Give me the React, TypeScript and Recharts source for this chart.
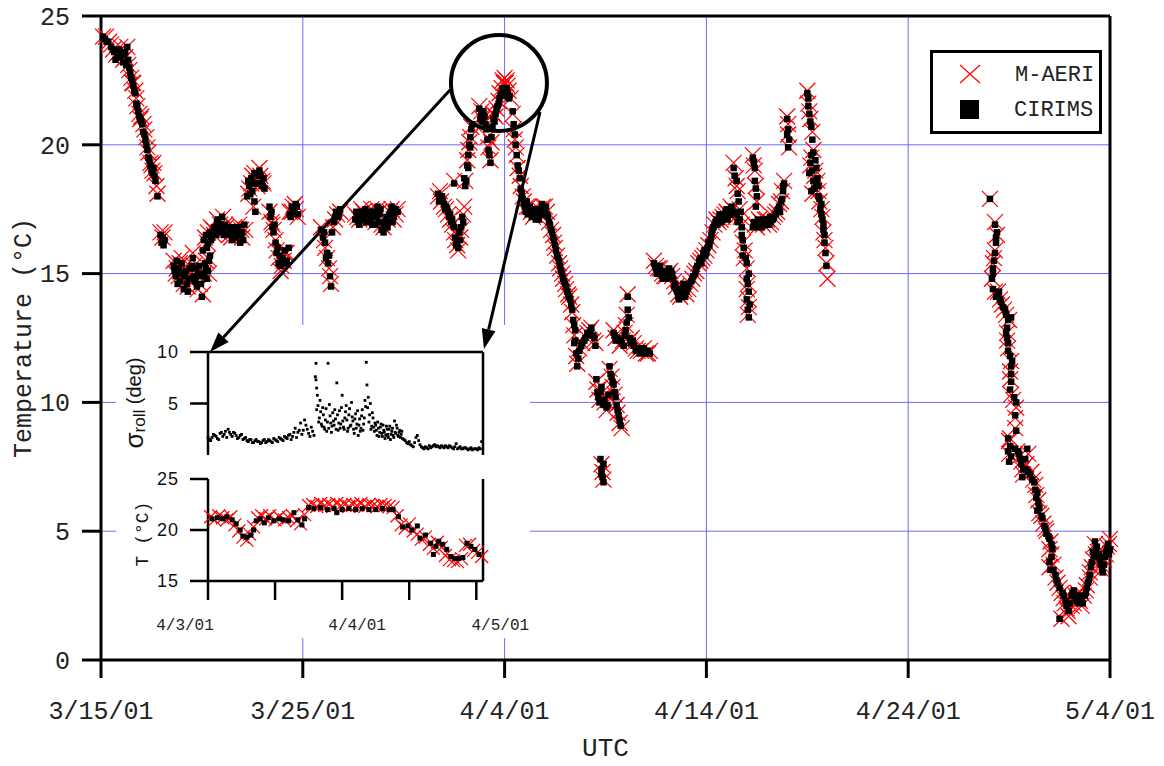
import { ScatterChart, Scatter, XAxis, YAxis, CartesianGrid, ReferenceLine, ReferenceDot, Legend } from 'recharts'

// days since 3/15/01 00 UTC, temperature in °C
const xTicks = [0, 10, 20, 30, 40, 50]
const xTickLabels = ['3/15/01', '3/25/01', '4/4/01', '4/14/01', '4/24/01', '5/4/01']
const yTicks = [0, 5, 10, 15, 20, 25]
const seriesNames = ['M-AERI', 'CIRIMS']

const cirimsMar = [
  [0.1, 24.2], [0.2, 24.1], [0.35, 24.0], [0.5, 23.8], [0.65, 23.6], [0.8, 23.4], [0.9, 23.7], [1.0, 23.5], [1.1, 23.2], [1.2, 23.6],
  [1.3, 23.8], [1.35, 23.3], [1.45, 22.8], [1.55, 22.5], [1.6, 22.3], [1.7, 22.0], [1.75, 21.6], [1.85, 21.3], [1.95, 21.0], [2.05, 20.8],
  [2.1, 20.5], [2.2, 20.2], [2.3, 19.8], [2.35, 19.5], [2.45, 19.2], [2.55, 18.9], [2.6, 19.1], [2.8, 18.0], [2.95, 16.5], [3.0, 16.2],
  [3.05, 16.4], [3.15, 16.3],
  [3.6, 15.3], [3.7, 14.9], [3.75, 15.5], [3.85, 15.2], [3.9, 14.7], [4.0, 15.4], [4.05, 15.0], [4.1, 14.4], [4.2, 15.1], [4.25, 14.6],
  [4.3, 14.3], [4.4, 15.2], [4.45, 14.8], [4.55, 15.6], [4.6, 14.9], [4.7, 15.2], [4.75, 14.5], [4.85, 15.3], [4.9, 14.9], [5.0, 14.1],
  [5.05, 15.0], [5.15, 15.4], [5.25, 14.8], [5.3, 15.1], [5.4, 15.7],
  [5.05, 15.9], [5.1, 16.3], [5.2, 16.5], [5.3, 16.2], [5.4, 16.6], [5.5, 16.4], [5.6, 16.8], [5.7, 16.5], [5.75, 17.0], [5.85, 16.6],
  [5.9, 16.8], [6.0, 17.2], [6.05, 16.7], [6.15, 16.9], [6.25, 16.5], [6.4, 16.7], [6.5, 16.3], [6.6, 16.6], [6.7, 16.4], [6.8, 16.8],
  [6.9, 16.2], [7.0, 16.6], [7.1, 16.9],
  [7.25, 18.0], [7.35, 18.4], [7.45, 18.7], [7.5, 18.2], [7.6, 18.9], [7.7, 18.5], [7.8, 18.8], [7.85, 19.0], [7.95, 18.5], [8.05, 18.7],
  [8.1, 18.3], [7.6, 17.8], [7.65, 17.4], [8.35, 17.6], [8.4, 17.2], [8.5, 16.8], [8.55, 16.6], [8.65, 16.2], [8.7, 15.8], [8.8, 15.4],
  [8.9, 15.3], [9.0, 15.6], [9.1, 15.9], [9.2, 15.5], [9.3, 16.0], [9.35, 17.3], [9.45, 17.6], [9.55, 17.4], [9.65, 17.7], [9.75, 17.3],
  [10.9, 16.7], [11.0, 16.4], [11.1, 16.2], [11.15, 15.6], [11.25, 15.4], [11.3, 15.7], [11.35, 14.9], [11.4, 14.5], [11.45, 16.6], [11.55, 17.0],
  [11.65, 17.4], [11.75, 17.2], [11.85, 17.5],
  [12.6, 17.1], [12.7, 17.3], [12.8, 16.9], [12.9, 17.4], [13.0, 17.2], [13.1, 17.5], [13.2, 17.3], [13.3, 17.0], [13.4, 17.4], [13.5, 17.2],
  [13.6, 16.9], [13.7, 17.6], [13.8, 17.3], [13.9, 16.7], [14.0, 16.6], [14.1, 17.0], [14.2, 16.8], [14.3, 17.3], [14.4, 17.6], [14.5, 17.2],
  [14.6, 17.5], [14.7, 17.4],
]

const cirimsEarlyApr = [
  [16.7, 18.1], [16.8, 17.9], [16.9, 18.0], [17.0, 17.7], [17.1, 17.6], [17.2, 17.4], [17.3, 17.3], [17.4, 17.1], [17.5, 16.8], [17.55, 16.4],
  [17.6, 16.1], [17.7, 16.0], [17.8, 16.3], [17.85, 16.8], [17.9, 17.2], [17.5, 18.5], [18.0, 18.7], [18.1, 18.6], [18.15, 19.2], [18.2, 19.6],
  [18.25, 20.0], [18.3, 20.3], [18.35, 20.6],
  [18.75, 21.4], [18.85, 21.2], [18.9, 20.9], [19.0, 21.1], [19.1, 20.6], [19.2, 19.8], [19.3, 19.3], [19.35, 20.3], [19.45, 21.0], [19.55, 21.2],
  [19.65, 21.5], [19.75, 21.8], [19.85, 22.0], [19.95, 22.1], [20.05, 22.1], [20.15, 22.0], [20.25, 21.9], [20.4, 21.3], [20.5, 20.4], [20.55, 20.0],
  [20.6, 19.6], [20.65, 19.2], [20.75, 18.7], [20.8, 18.3], [20.9, 17.9], [21.0, 17.6],
  [21.1, 17.8], [21.15, 17.3], [21.25, 17.6], [21.35, 17.2], [21.45, 17.5], [21.55, 17.1], [21.65, 17.4], [21.75, 17.3], [21.85, 17.7], [21.95, 17.5],
  [22.05, 17.6], [22.15, 17.2], [22.25, 16.9], [22.35, 16.6], [22.45, 16.3], [22.55, 15.9], [22.65, 15.6], [22.75, 15.3], [22.85, 15.0], [22.95, 14.7],
  [23.05, 14.5], [23.15, 14.2], [23.25, 14.0], [23.35, 13.6], [23.4, 13.2], [23.5, 12.8], [23.45, 12.3], [23.55, 11.9], [23.6, 11.4], [23.7, 12.0],
  [23.85, 12.3], [24.0, 12.5], [24.15, 12.6], [24.3, 12.9], [24.45, 12.5], [24.5, 12.2],
  [24.55, 10.9], [24.6, 10.4], [24.7, 10.0], [24.8, 10.6], [24.9, 9.9], [25.05, 9.8], [25.15, 10.3], [25.2, 11.4], [25.3, 11.0], [25.4, 10.7],
  [25.5, 10.2], [25.6, 9.7], [25.7, 9.3], [25.75, 9.1], [24.75, 7.8], [24.8, 7.4], [24.85, 7.1], [24.9, 6.9], [25.4, 12.7], [25.5, 12.4],
  [25.8, 12.3], [25.95, 12.6], [26.05, 13.1], [26.1, 13.6], [26.1, 14.1], [26.2, 12.5], [26.35, 12.4], [26.5, 12.0], [26.65, 12.1], [26.8, 12.0],
  [26.95, 11.9], [27.1, 12.0], [27.2, 11.9],
]

const cirimsMidApr = [
  [27.4, 15.4], [27.5, 15.2], [27.6, 15.0], [27.7, 15.3], [27.8, 14.9], [27.9, 15.1], [28.0, 14.8], [28.15, 15.2], [28.3, 15.0], [28.45, 14.6],
  [28.55, 14.3], [28.65, 14.0], [28.7, 14.4], [28.85, 14.6], [29.0, 14.3], [29.1, 14.5], [29.25, 14.7], [29.35, 14.9], [29.5, 15.2], [29.65, 15.5],
  [29.75, 15.4], [29.85, 15.8], [29.95, 15.7], [30.05, 16.0], [30.15, 16.1], [30.25, 16.5], [30.35, 16.8], [30.45, 17.0], [30.55, 16.9], [30.7, 17.2],
  [30.8, 17.1], [30.95, 17.4], [31.1, 17.3], [31.25, 17.6], [31.4, 17.4], [31.55, 17.0],
  [31.35, 19.1], [31.5, 18.6], [31.55, 18.1], [31.7, 17.4], [31.75, 16.8], [31.8, 16.3], [31.8, 15.7], [32.0, 15.4], [32.1, 15.0], [32.05, 14.6],
  [32.1, 14.3], [32.0, 14.0], [32.05, 13.6], [32.1, 13.3],
  [32.3, 19.5], [32.4, 19.1], [32.4, 18.6], [32.5, 18.0], [32.45, 17.6],
  [32.3, 16.8], [32.45, 16.9], [32.6, 17.0], [32.75, 16.8], [32.9, 17.0], [33.05, 17.1], [33.2, 17.0], [33.35, 17.2], [33.5, 17.4], [33.6, 17.6],
  [33.7, 17.8], [33.8, 18.2], [33.85, 18.5],
  [34.0, 21.0], [34.05, 20.6], [34.1, 20.2], [34.05, 19.9],
  [35.0, 22.0], [35.05, 21.5], [35.1, 21.2], [35.2, 20.7], [35.25, 20.2], [35.3, 19.7], [35.15, 19.3], [35.1, 18.9], [35.25, 19.0], [35.45, 19.1],
  [35.5, 18.7], [35.35, 18.3], [35.2, 18.2], [35.55, 18.4], [35.6, 17.9], [35.7, 17.7], [35.75, 17.1], [35.8, 16.7], [35.85, 16.2], [35.95, 15.3],
]

const cirimsLate = [
  [44.05, 17.9], [44.3, 16.9], [44.4, 16.6], [44.35, 16.2], [44.3, 15.8], [44.2, 15.2], [44.15, 14.8], [44.2, 14.4], [44.45, 14.2], [44.55, 14.0],
  [44.7, 13.7], [44.85, 13.4], [45.1, 13.3], [44.9, 12.9], [44.9, 12.5], [44.95, 12.0], [45.15, 11.6], [45.1, 11.1], [45.05, 10.5], [45.35, 10.0],
  [45.35, 8.9], [44.95, 8.6], [44.95, 8.1], [45.0, 7.7], [45.3, 8.2], [45.5, 8.0], [45.6, 7.6], [45.65, 7.1], [45.9, 8.2], [45.85, 7.4],
  [46.05, 7.2], [46.25, 6.9], [46.4, 6.5], [46.45, 6.1], [46.4, 5.8], [46.65, 5.5], [46.75, 5.2], [46.85, 4.9], [47.0, 4.7], [47.15, 4.3],
  [47.0, 3.8], [47.05, 3.5], [47.3, 3.3], [47.4, 3.0], [47.65, 2.6], [47.8, 2.3], [47.95, 1.9], [47.5, 1.6], [48.1, 2.5], [48.2, 2.7],
  [48.35, 2.3], [48.5, 2.5], [48.65, 2.2], [48.8, 2.6], [48.9, 3.0], [49.0, 3.3], [49.1, 3.8], [49.15, 4.2], [49.25, 4.6], [49.35, 4.4],
  [49.5, 3.9], [49.6, 3.5], [49.7, 3.7], [49.8, 4.2], [49.9, 4.5], [49.95, 4.1],
]

// further CIRIMS readings between the ones above (the record is nearly continuous)
const cirimsDense = [
  [0.28, 24.0], [0.58, 23.7], [0.72, 23.3], [0.95, 23.4], [1.15, 23.5], [1.25, 23.1], [1.4, 23.0], [1.5, 22.6], [1.65, 22.1], [1.8, 21.5],
  [1.9, 21.1], [2.0, 20.9], [2.15, 20.4], [2.25, 20.0], [2.4, 19.4], [2.5, 19.0], [2.65, 18.8], [2.7, 18.6], [3.1, 16.1],
  [3.65, 15.1], [3.8, 14.6], [3.95, 15.0], [4.15, 14.9], [4.35, 14.8], [4.5, 15.3], [4.65, 14.7], [4.8, 15.0], [4.95, 14.6], [5.1, 14.9],
  [5.2, 15.2], [5.35, 15.5],
  [5.25, 16.0], [5.45, 16.3], [5.65, 16.6], [5.8, 17.1], [5.95, 16.9], [6.1, 16.5], [6.3, 16.8], [6.45, 16.5], [6.55, 16.8], [6.75, 16.6],
  [6.95, 16.5], [7.05, 16.3],
  [7.3, 18.6], [7.4, 18.1], [7.55, 18.5], [7.7, 18.9], [7.9, 18.8], [8.0, 18.4], [8.45, 17.4], [8.6, 16.9], [8.75, 16.0], [8.85, 15.7],
  [8.95, 15.5], [9.15, 15.4], [9.4, 17.2], [9.5, 17.5], [9.7, 17.6],
  [11.05, 16.6], [11.2, 15.8], [11.6, 17.2], [11.8, 17.3], [12.65, 17.4], [12.75, 17.0], [12.85, 17.2], [12.95, 17.1], [13.05, 17.3], [13.15, 17.0],
  [13.25, 17.4], [13.35, 17.1], [13.45, 16.9], [13.55, 17.4], [13.65, 17.2], [13.75, 17.0], [13.85, 17.5], [13.95, 17.0], [14.05, 16.8], [14.15, 17.2],
  [14.25, 17.0], [14.35, 17.4], [14.45, 17.0], [14.55, 17.4],
  [16.75, 17.8], [16.95, 17.8], [17.05, 17.5], [17.15, 17.5], [17.25, 17.2], [17.35, 17.0], [17.45, 16.9], [17.65, 16.2], [17.75, 16.6], [17.95, 17.0],
  [18.05, 18.4], [18.2, 19.1], [18.3, 19.9], [18.4, 20.8], [18.8, 21.0], [18.95, 21.3], [19.05, 20.8], [19.15, 20.2], [19.25, 19.6], [19.4, 20.7],
  [19.5, 20.9], [19.6, 21.4], [19.7, 21.6], [19.8, 21.9], [19.9, 22.2], [20.0, 21.9], [20.1, 22.2], [20.2, 21.8], [20.45, 20.8], [20.7, 19.0],
  [20.85, 18.1], [20.95, 17.7],
  [21.05, 17.4], [21.2, 17.5], [21.3, 17.4], [21.4, 17.3], [21.5, 17.2], [21.6, 17.5], [21.7, 17.1], [21.8, 17.5], [21.9, 17.3], [22.0, 17.4],
  [22.1, 17.3], [22.2, 17.0], [22.3, 16.7], [22.4, 16.4], [22.5, 16.1], [22.6, 15.7], [22.7, 15.5], [22.8, 15.1], [22.9, 14.8], [23.0, 14.6],
  [23.1, 14.3], [23.2, 14.1], [23.3, 13.8], [23.45, 13.0], [23.5, 12.4], [23.65, 11.7], [23.8, 12.2], [23.95, 12.4], [24.1, 12.7], [24.25, 12.8],
  [24.4, 12.6],
  [24.65, 10.2], [24.75, 10.4], [24.95, 10.1], [25.1, 9.9], [25.25, 11.1], [25.35, 10.8], [25.45, 10.4], [25.55, 9.9], [25.65, 9.5], [24.8, 7.2],
  [24.9, 7.6], [25.45, 12.6], [25.6, 12.5], [25.75, 12.4], [25.9, 12.2], [26.0, 12.8], [26.15, 13.3], [26.25, 12.3], [26.4, 12.2], [26.6, 12.1],
  [26.7, 11.9], [26.9, 12.1], [27.05, 12.0],
  [27.45, 15.3], [27.55, 15.0], [27.65, 15.2], [27.75, 15.1], [27.85, 14.8], [27.95, 15.0], [28.05, 15.1], [28.1, 14.9], [28.25, 15.1], [28.35, 14.8],
  [28.4, 14.5], [28.5, 14.4], [28.6, 14.1], [28.75, 14.2], [28.9, 14.4], [28.95, 14.1], [29.05, 14.4], [29.15, 14.6], [29.3, 14.8], [29.45, 15.0],
  [29.55, 15.3], [29.7, 15.6], [29.8, 15.6], [29.9, 15.9], [30.0, 15.8], [30.1, 16.2], [30.2, 16.3], [30.3, 16.7], [30.4, 16.9], [30.5, 17.1],
  [30.6, 17.0], [30.65, 17.3], [30.75, 17.0], [30.85, 17.3], [30.9, 17.2], [31.0, 17.5], [31.05, 17.1], [31.15, 17.5], [31.2, 17.3], [31.3, 17.4],
  [31.5, 17.3],
  [31.4, 18.8], [31.6, 17.8], [31.65, 17.1], [31.75, 16.5], [31.85, 16.0], [31.95, 15.6], [32.0, 14.8], [32.15, 13.8], [32.35, 19.3], [32.45, 18.3],
  [32.35, 17.0], [32.5, 16.8], [32.55, 17.1], [32.7, 16.9], [32.85, 17.1], [32.95, 16.9], [33.1, 16.9], [33.15, 17.2], [33.3, 17.1], [33.45, 17.3],
  [33.55, 17.5], [33.65, 17.4], [33.75, 17.9], [33.8, 18.4], [34.0, 20.4], [35.05, 21.8], [35.15, 20.9], [35.2, 19.6], [35.3, 18.6], [35.4, 19.4],
  [35.45, 18.5], [35.55, 18.0], [35.65, 17.5], [35.7, 17.3], [35.8, 16.9], [35.85, 16.5], [35.9, 15.8],
  [44.35, 16.4], [44.25, 15.5], [44.2, 15.0], [44.35, 14.1], [44.5, 14.3], [44.6, 13.9], [44.8, 13.6], [44.95, 13.2], [44.85, 12.7], [44.95, 12.3],
  [45.05, 11.8], [45.1, 11.4], [45.1, 10.8], [45.25, 10.2], [45.3, 9.5], [45.05, 8.3], [45.1, 7.9], [45.45, 8.1], [45.55, 7.8], [45.7, 7.4],
  [45.8, 7.8], [45.95, 7.3], [46.15, 7.0], [46.3, 6.6], [46.35, 6.3], [46.5, 5.9], [46.6, 5.6], [46.8, 5.1], [46.95, 4.8], [47.1, 4.5],
  [47.1, 4.0], [47.2, 3.5], [47.35, 3.1], [47.5, 2.8], [47.7, 2.5], [47.85, 2.1], [48.0, 2.2], [48.15, 2.6], [48.3, 2.4], [48.45, 2.2],
  [48.6, 2.4], [48.75, 2.5], [48.85, 2.8], [48.95, 3.1], [49.05, 3.6], [49.2, 4.0], [49.3, 4.3], [49.45, 4.1], [49.55, 3.7], [49.65, 3.4],
  [49.75, 4.0], [49.85, 4.3], [50.0, 4.3],
]

const maeriMar = [
  [0.1, 24.2], [0.25, 24.2], [0.4, 24.0], [0.6, 23.7], [0.75, 23.5], [0.95, 23.8], [1.05, 23.5], [1.2, 23.4], [1.3, 23.8], [1.4, 22.9],
  [1.5, 22.6], [1.6, 22.4], [1.7, 22.1], [1.8, 21.5], [1.9, 21.2], [2.0, 21.1], [2.15, 20.6], [2.25, 20.3], [2.35, 19.7], [2.45, 19.3],
  [2.55, 19.0], [2.6, 19.3], [2.75, 18.4], [2.8, 18.1], [2.95, 16.6], [3.05, 16.4], [3.15, 16.6],
  [3.6, 15.5], [3.75, 15.2], [3.85, 14.9], [4.0, 15.6], [4.1, 14.6], [4.2, 15.3], [4.3, 14.5], [4.45, 15.0], [4.55, 15.8], [4.65, 14.8],
  [4.8, 14.4], [4.95, 15.2], [5.05, 14.2], [5.2, 15.5], [5.35, 15.0],
  [5.15, 16.4], [5.3, 16.6], [5.45, 16.8], [5.6, 16.5], [5.75, 17.1], [5.9, 16.9], [6.05, 17.2], [6.2, 16.8], [6.35, 16.5], [6.5, 16.7],
  [6.7, 16.5], [6.85, 16.9], [7.0, 16.4], [7.15, 16.7],
  [7.3, 18.1], [7.45, 18.5], [7.6, 18.9], [7.75, 18.4], [7.9, 18.8], [8.05, 18.5], [7.55, 17.6], [8.35, 17.4], [8.45, 17.0], [8.55, 16.7],
  [8.65, 16.3], [8.8, 15.6], [8.9, 15.1], [9.05, 15.5], [9.2, 15.8], [9.35, 17.4], [9.5, 17.6], [9.65, 17.5], [9.75, 17.2],
  [10.9, 16.8], [11.05, 16.3], [11.2, 15.6], [11.3, 15.2], [11.4, 14.6], [11.5, 16.8], [11.7, 17.3], [11.85, 17.4],
  [12.6, 17.3], [12.8, 17.1], [13.0, 17.4], [13.2, 17.2], [13.4, 17.5], [13.6, 17.0], [13.8, 17.4], [14.0, 16.8], [14.2, 17.1], [14.4, 17.5],
  [14.6, 17.3],
]

const maeriEarlyApr = [
  [16.7, 18.0], [16.85, 17.8], [17.0, 17.6], [17.2, 17.3], [17.4, 16.9], [17.55, 16.3], [17.7, 15.9], [17.85, 16.7], [17.95, 17.3], [17.5, 18.6],
  [18.05, 18.6], [18.15, 19.4], [18.25, 20.1], [18.35, 20.7],
  [18.75, 21.5], [18.9, 21.0], [19.05, 21.2], [19.2, 19.9], [19.3, 19.4], [19.45, 21.2], [19.6, 21.4], [19.75, 22.0], [19.9, 22.5], [20.0, 22.6],
  [20.1, 22.5], [20.15, 22.3], [20.3, 21.8], [20.45, 20.6], [20.55, 19.9], [20.65, 19.1], [20.8, 18.4], [20.95, 17.8],
  [21.1, 17.6], [21.3, 17.4], [21.5, 17.3], [21.7, 17.5], [21.9, 17.6], [22.1, 17.4], [22.3, 16.7], [22.45, 16.2], [22.6, 15.7], [22.75, 15.2],
  [22.9, 14.8], [23.05, 14.4], [23.2, 14.1], [23.35, 13.5], [23.45, 12.6], [23.55, 11.8], [23.7, 12.1], [23.95, 12.6], [24.2, 12.8], [24.4, 12.4],
  [24.55, 10.8], [24.7, 10.1], [24.85, 10.4], [25.05, 9.7], [25.2, 11.3], [25.35, 10.6], [25.55, 9.9], [25.7, 9.2], [25.8, 9.0], [24.8, 7.6],
  [24.9, 7.0], [25.4, 12.8], [25.7, 12.2], [25.95, 12.7], [26.05, 13.4], [26.1, 14.2], [26.3, 12.5], [26.5, 12.1], [26.75, 12.0], [27.0, 11.9],
  [27.2, 12.0],
]

const maeriMidApr = [
  [27.4, 15.5], [27.6, 15.2], [27.8, 15.0], [28.0, 14.9], [28.2, 15.1], [28.4, 14.7], [28.6, 14.2], [28.8, 14.5], [29.0, 14.2], [29.2, 14.6],
  [29.4, 15.0], [29.6, 15.4], [29.8, 15.6], [30.0, 15.9], [30.2, 16.3], [30.4, 16.9], [30.6, 17.0], [30.8, 17.2], [31.0, 17.4], [31.2, 17.6],
  [31.45, 17.2],
  [31.35, 19.3], [31.45, 18.7], [31.55, 18.2], [31.65, 17.5], [31.75, 16.9], [31.8, 16.2], [31.85, 15.6], [32.0, 15.2], [32.05, 14.6], [32.1, 14.0],
  [32.05, 13.4], [32.3, 19.6], [32.4, 19.0], [32.45, 18.4], [32.5, 17.8],
  [32.4, 16.9], [32.6, 17.1], [32.8, 16.9], [33.0, 17.1], [33.2, 17.0], [33.4, 17.3], [33.6, 17.7], [33.75, 18.2], [33.85, 18.6], [34.0, 21.1],
  [34.05, 20.4], [34.1, 19.9],
  [35.0, 22.1], [35.05, 21.6], [35.15, 21.0], [35.25, 20.5], [35.3, 19.8], [35.15, 19.2], [35.35, 18.8], [35.5, 18.6], [35.25, 18.1], [35.6, 17.8],
  [35.75, 17.2], [35.8, 16.6], [35.9, 16.0], [35.95, 15.4], [36.0, 14.8],
]

const maeriLate = [
  [44.05, 17.9], [44.3, 17.0], [44.4, 16.5], [44.3, 15.9], [44.2, 15.4], [44.15, 14.8], [44.3, 14.3], [44.55, 14.0], [44.75, 13.6], [45.0, 13.2],
  [44.9, 12.7], [44.95, 12.1], [45.1, 11.6], [45.05, 10.9], [45.1, 10.3], [45.35, 9.8], [45.3, 9.0], [45.0, 8.5], [45.0, 8.0], [45.4, 8.1],
  [45.6, 7.7], [45.7, 7.2], [45.95, 8.0], [46.1, 7.3], [46.3, 6.8], [46.45, 6.2], [46.5, 5.7], [46.7, 5.3], [46.85, 5.0], [47.05, 4.6],
  [47.1, 4.1], [47.0, 3.6], [47.3, 3.2], [47.5, 2.8], [47.7, 2.4], [47.85, 2.0], [47.6, 1.6], [47.95, 1.7], [48.1, 2.1], [48.3, 2.5],
  [48.5, 2.3], [48.7, 2.5], [48.85, 2.9], [49.0, 3.4], [49.15, 3.9], [49.25, 4.5], [49.4, 4.2], [49.55, 3.7], [49.7, 3.9], [49.85, 4.4],
  [50.0, 4.7],
]

const maeriDense = [
  [0.5, 23.9], [0.85, 23.6], [1.1, 23.3], [1.35, 23.1], [1.55, 22.4], [1.75, 21.8], [1.95, 21.0], [2.1, 20.8], [2.3, 19.9], [2.5, 19.2],
  [2.65, 18.9],
  [3.7, 15.0], [3.9, 15.4], [4.05, 14.8], [4.25, 15.1], [4.4, 14.7], [4.6, 15.3], [4.75, 15.1], [4.9, 14.6], [5.1, 15.0], [5.3, 15.6],
  [5.25, 16.2], [5.55, 16.7], [5.85, 16.6], [6.15, 16.9], [6.45, 16.4], [6.6, 16.8], [6.95, 16.7],
  [7.35, 18.3], [7.5, 18.8], [7.7, 18.6], [7.85, 19.1], [8.0, 18.6], [8.5, 16.9], [8.7, 15.9], [8.95, 15.3], [9.1, 15.8], [9.45, 17.4],
  [9.6, 17.7],
  [11.1, 16.0], [11.35, 14.9], [11.6, 17.1], [12.7, 17.2], [12.9, 17.5], [13.1, 17.3], [13.3, 17.1], [13.5, 17.3], [13.7, 17.5], [13.9, 16.9],
  [14.1, 17.2], [14.3, 17.4], [14.5, 17.1], [14.7, 17.5],
  [16.8, 18.2], [17.1, 17.5], [17.3, 17.1], [17.5, 16.6], [17.65, 16.1], [17.8, 16.4], [18.0, 17.6], [18.2, 19.8], [18.3, 20.3],
  [18.85, 21.3], [19.0, 20.9], [19.15, 20.3], [19.35, 20.1], [19.55, 21.1], [19.7, 21.7], [19.85, 22.2], [19.95, 22.4], [20.05, 22.4], [20.2, 22.1],
  [20.4, 21.2], [20.5, 20.2], [20.6, 19.6], [20.75, 18.8], [20.9, 18.0],
  [21.2, 17.6], [21.4, 17.2], [21.6, 17.4], [21.8, 17.3], [22.0, 17.6], [22.2, 17.0], [22.4, 16.5], [22.5, 16.0], [22.7, 15.4], [22.85, 15.0],
  [23.0, 14.6], [23.15, 14.2], [23.3, 13.8], [23.4, 13.0], [23.6, 11.5], [23.85, 12.3], [24.1, 12.7], [24.3, 12.9], [24.5, 12.3],
  [24.6, 10.5], [24.95, 10.0], [25.1, 10.3], [25.3, 11.0], [25.45, 10.3], [25.6, 9.6], [24.85, 7.3], [25.5, 12.5], [25.85, 12.4], [26.0, 13.0],
  [26.2, 12.4], [26.4, 12.3], [26.6, 12.0], [26.9, 12.1], [27.1, 11.9],
  [27.5, 15.3], [27.7, 15.2], [27.9, 14.9], [28.1, 15.0], [28.3, 14.9], [28.5, 14.5], [28.7, 14.1], [28.9, 14.4], [29.1, 14.4], [29.3, 14.8],
  [29.5, 15.1], [29.7, 15.5], [29.9, 15.7], [30.1, 16.1], [30.3, 16.6], [30.5, 17.1], [30.7, 17.1], [30.9, 17.3], [31.1, 17.3], [31.3, 17.5],
  [31.5, 18.4], [31.7, 17.2], [31.9, 15.9], [32.0, 14.4], [32.1, 13.7], [32.35, 19.2], [32.5, 16.8], [32.7, 17.0], [32.9, 17.1], [33.1, 16.9],
  [33.3, 17.2], [33.5, 17.4], [33.7, 17.8], [34.05, 20.8], [35.1, 21.3], [35.2, 19.5], [35.4, 19.0], [35.55, 18.2], [35.7, 17.5], [35.85, 16.3],
  [44.25, 15.6], [44.45, 14.3], [44.65, 13.8], [44.85, 13.4], [44.9, 12.4], [45.05, 11.2], [45.2, 10.1], [45.3, 9.4], [45.05, 8.6], [45.5, 7.9],
  [45.65, 7.4], [45.85, 7.6], [46.2, 7.0], [46.35, 6.4], [46.6, 5.6], [46.8, 5.1], [47.0, 4.3], [47.2, 3.7], [47.4, 3.0], [47.6, 2.6],
  [47.75, 2.2], [47.9, 1.9], [48.05, 2.4], [48.2, 2.2], [48.4, 2.6], [48.6, 2.1], [48.8, 2.7], [49.0, 3.2], [49.1, 3.6], [49.3, 4.1],
  [49.5, 4.0], [49.6, 3.5], [49.8, 4.1], [49.95, 4.5],
]

// inset: days since 4/3/01 00 UTC
const insetDayTicks = [0, 0.5, 1, 1.5, 2]
const insetDayLabels = ['4/3/01', '', '4/4/01', '', '4/5/01']
const sigmaTicks = [0, 5, 10]
const insetTTicks = [15, 20, 25]

const sigmaRoll = [
  [0.01, 1.5], [0.03, 1.7], [0.05, 1.9], [0.07, 1.6], [0.09, 2.1], [0.11, 1.8], [0.13, 2.3], [0.15, 2.5], [0.17, 2.0], [0.19, 2.2],
  [0.21, 1.9], [0.23, 1.7], [0.25, 2.0], [0.27, 1.6], [0.29, 1.4], [0.31, 1.5], [0.33, 1.2], [0.35, 1.4], [0.37, 1.3], [0.39, 1.1],
  [0.41, 1.4], [0.43, 1.2], [0.45, 1.5], [0.47, 1.3], [0.49, 1.6], [0.51, 1.4], [0.53, 1.7], [0.55, 1.5], [0.57, 1.8], [0.59, 1.6],
  [0.61, 2.0], [0.63, 1.8], [0.65, 2.6], [0.67, 2.2], [0.69, 3.1], [0.71, 2.4], [0.73, 2.9], [0.75, 2.1], [0.77, 2.7], [0.79, 1.9],
  [0.8, 7.6], [0.805, 8.9], [0.81, 6.5], [0.815, 5.8], [0.82, 4.8], [0.83, 3.6], [0.84, 4.2], [0.85, 2.8], [0.86, 3.9], [0.87, 2.5],
  [0.88, 4.5], [0.89, 3.2], [0.895, 8.9], [0.9, 2.6], [0.91, 3.8], [0.92, 2.2], [0.93, 4.1], [0.94, 2.9], [0.95, 3.5], [0.96, 7.0],
  [0.97, 2.4], [0.98, 4.3], [0.99, 3.0], [1.0, 5.8], [1.01, 2.7], [1.02, 3.6], [1.03, 4.8], [1.04, 2.3], [1.05, 3.9], [1.06, 2.8],
  [1.07, 5.1], [1.08, 3.3], [1.09, 2.1], [1.1, 4.0], [1.11, 3.0], [1.12, 1.9], [1.13, 3.5], [1.14, 2.6], [1.15, 4.4], [1.16, 3.0],
  [1.17, 5.3], [1.18, 9.0], [1.185, 6.8], [1.19, 4.6], [1.2, 3.2], [1.21, 5.0], [1.22, 2.8], [1.23, 3.6], [1.24, 2.3], [1.25, 2.9],
  [1.26, 1.9], [1.27, 2.6], [1.28, 2.2], [1.29, 3.0], [1.3, 1.8], [1.31, 2.4], [1.32, 1.6], [1.33, 2.8], [1.34, 2.0], [1.35, 2.5],
  [1.36, 1.5], [1.37, 2.3], [1.38, 1.9], [1.39, 3.3], [1.4, 2.1], [1.41, 2.6], [1.42, 1.8], [1.43, 2.4], [1.44, 2.0], [1.45, 1.6],
  [1.47, 1.4], [1.49, 1.1], [1.51, 1.0], [1.53, 0.8], [1.55, 1.7], [1.57, 1.4], [1.59, 0.8], [1.61, 0.6], [1.63, 0.7], [1.65, 0.9],
  [1.67, 0.8], [1.69, 1.0], [1.71, 0.9], [1.73, 0.7], [1.75, 0.8], [1.77, 0.9], [1.79, 0.7], [1.81, 0.8], [1.83, 0.6], [1.85, 1.1],
  [1.87, 0.7], [1.89, 0.6], [1.91, 0.7], [1.93, 0.6], [1.95, 0.6], [1.97, 0.5], [1.99, 0.6], [2.01, 0.5], [2.03, 0.6],
]

const sigmaRollDense = [
  [0.0, 1.7], [0.02, 1.4], [0.04, 2.0], [0.06, 1.8], [0.08, 1.5], [0.1, 2.2], [0.12, 2.0], [0.14, 1.7], [0.16, 2.2], [0.18, 1.8],
  [0.2, 2.1], [0.22, 1.6], [0.24, 1.9], [0.26, 1.5], [0.28, 1.7], [0.3, 1.3], [0.32, 1.5], [0.34, 1.2], [0.36, 1.5], [0.38, 1.3],
  [0.4, 1.2], [0.42, 1.5], [0.44, 1.3], [0.46, 1.4], [0.48, 1.2], [0.5, 1.5], [0.52, 1.3], [0.54, 1.6], [0.56, 1.4], [0.58, 1.7],
  [0.6, 1.9], [0.62, 1.5], [0.64, 2.2], [0.66, 1.7], [0.68, 2.4], [0.7, 2.0], [0.72, 3.4], [0.74, 2.5], [0.76, 1.8], [0.78, 2.3],
  [0.805, 7.3], [0.81, 4.4], [0.825, 3.2], [0.835, 5.3], [0.845, 3.0], [0.855, 4.6], [0.865, 2.7], [0.875, 3.4], [0.885, 2.3], [0.905, 4.9],
  [0.915, 3.1], [0.925, 2.8], [0.935, 3.3], [0.945, 4.4], [0.955, 2.5], [0.965, 3.9], [0.975, 3.1], [0.985, 2.6], [0.995, 4.6], [1.005, 3.3],
  [1.015, 2.5], [1.025, 4.2], [1.035, 3.4], [1.045, 2.6], [1.055, 4.5], [1.065, 2.9], [1.075, 3.7], [1.085, 2.5], [1.095, 3.5], [1.105, 2.6],
  [1.115, 4.3], [1.125, 2.9], [1.135, 2.3], [1.145, 3.8], [1.155, 2.4], [1.165, 3.6], [1.175, 4.7], [1.195, 5.6], [1.205, 3.9], [1.215, 2.5],
  [1.225, 4.1], [1.235, 2.7], [1.245, 3.1], [1.255, 2.4], [1.265, 3.2], [1.275, 1.8], [1.285, 2.7], [1.295, 2.1], [1.305, 2.9], [1.315, 2.2],
  [1.325, 1.9], [1.335, 2.5], [1.345, 1.7], [1.355, 2.8], [1.365, 2.0], [1.375, 2.6], [1.385, 1.7], [1.395, 2.2], [1.405, 2.9], [1.415, 1.9],
  [1.425, 2.2], [1.435, 1.7], [1.445, 2.3], [1.46, 1.5], [1.48, 1.2], [1.5, 1.3], [1.52, 0.9], [1.54, 1.2], [1.56, 1.9], [1.58, 1.0],
  [1.6, 0.7], [1.62, 0.8], [1.64, 0.6], [1.66, 0.7], [1.68, 0.9], [1.7, 0.8], [1.72, 0.8], [1.74, 0.9], [1.76, 0.7], [1.78, 0.8],
  [1.8, 0.9], [1.82, 0.7], [1.84, 0.8], [1.86, 0.6], [1.88, 0.8], [1.9, 0.6], [1.92, 0.7], [1.94, 0.5], [1.96, 0.7], [1.98, 0.6],
  [2.0, 0.6], [2.02, 0.7], [2.04, 1.3],
]

const insetCirims = [
  [0.03, 21.1], [0.07, 21.2], [0.11, 21.1], [0.14, 21.3], [0.18, 21.0], [0.21, 20.6], [0.24, 20.0], [0.26, 19.4], [0.29, 19.3], [0.32, 19.5],
  [0.34, 20.0], [0.36, 20.9], [0.39, 21.1], [0.42, 20.7], [0.45, 21.2], [0.49, 20.9], [0.53, 21.1], [0.56, 21.0], [0.6, 20.9], [0.64, 21.7],
  [0.67, 21.0], [0.7, 20.5], [0.72, 21.1], [0.75, 22.2], [0.79, 22.1], [0.84, 22.2], [0.89, 22.0], [0.94, 22.1], [0.96, 21.7], [1.0, 22.0],
  [1.05, 22.1], [1.1, 22.0], [1.15, 22.1], [1.2, 22.0], [1.25, 22.0], [1.3, 22.1], [1.35, 22.0], [1.38, 22.0], [1.42, 21.3], [1.45, 20.3],
  [1.49, 20.4], [1.52, 20.0], [1.56, 20.4], [1.58, 19.2], [1.62, 19.5], [1.66, 18.7], [1.68, 17.6], [1.7, 18.4], [1.72, 18.9], [1.75, 18.6],
  [1.78, 18.1], [1.81, 17.4], [1.84, 17.2], [1.87, 17.2], [1.9, 17.3], [1.93, 18.7], [1.96, 18.4], [1.99, 18.1], [2.02, 17.6],
]

const insetMaeri = [
  [0.02, 21.3], [0.05, 21.0], [0.08, 21.4], [0.11, 21.2], [0.14, 21.0], [0.17, 21.3], [0.2, 20.5], [0.23, 19.9], [0.26, 19.3], [0.29, 19.0],
  [0.31, 19.6], [0.34, 20.3], [0.37, 21.2], [0.4, 21.4], [0.43, 21.1], [0.46, 21.4], [0.5, 21.0], [0.53, 21.3], [0.57, 21.0], [0.6, 21.2],
  [0.63, 21.4], [0.66, 20.9], [0.69, 20.6], [0.72, 21.5], [0.75, 22.4], [0.78, 22.5], [0.81, 22.3], [0.84, 22.6], [0.87, 22.4], [0.9, 22.5],
  [0.93, 22.3], [0.96, 22.6], [0.99, 22.4], [1.02, 22.5], [1.05, 22.3], [1.08, 22.5], [1.11, 22.4], [1.14, 22.6], [1.17, 22.3], [1.2, 22.5],
  [1.23, 22.4], [1.26, 22.3], [1.29, 22.5], [1.32, 22.4], [1.35, 22.3], [1.38, 22.2], [1.41, 21.4], [1.44, 20.5], [1.47, 20.2], [1.5, 20.6],
  [1.53, 19.9], [1.56, 19.6], [1.59, 19.1], [1.62, 19.3], [1.65, 18.6], [1.68, 18.2], [1.71, 18.8], [1.74, 18.3], [1.77, 17.5], [1.8, 17.1],
  [1.83, 17.0], [1.86, 16.9], [1.89, 17.2], [1.92, 18.5], [1.95, 18.6], [1.98, 18.0], [2.01, 17.8], [2.04, 17.4],
]

const toPts = (...groups: number[][][]) => groups.flat().map(([day, t]) => ({ day, t }))

const cirimsData = toPts(cirimsMar, cirimsEarlyApr, cirimsMidApr, cirimsLate, cirimsDense)
const maeriData = toPts(maeriMar, maeriEarlyApr, maeriMidApr, maeriLate, maeriDense)
const sigmaData = toPts(sigmaRoll, sigmaRollDense)
const insetCirimsData = toPts(insetCirims)
const insetMaeriData = toPts(insetMaeri)

const mono = "'Liberation Mono', 'DejaVu Sans Mono', monospace"
const sans = "'Liberation Sans', Arial, sans-serif"
const gridBlue = '#6b6bff'
const axisStyle = { stroke: '#000', strokeWidth: 3 }
const insetAxis = { stroke: '#000', strokeWidth: 2.5 }
const insetTick = { fill: '#111', fontSize: 18, fontFamily: sans, letterSpacing: 1 }
// the inset date labels sit a bit off their ticks in the original
const insetLabelShift = [-23, 0, 15, 0, 24]

const center = (p: any) => ({
  cx: p.cx ?? p.x + (p.width ?? 0) / 2,
  cy: p.cy ?? p.y + (p.height ?? 0) / 2,
})

const redX = (s: number) => (p: any) => {
  const { cx, cy } = center(p)
  return (
    <path
      d={`M${cx - s},${cy - s}L${cx + s},${cy + s}M${cx - s},${cy + s}L${cx + s},${cy - s}`}
      stroke="#ff0000" strokeWidth={1.2} fill="none"
    />
  )
}

const blackSquare = (s: number) => (p: any) => {
  const { cx, cy } = center(p)
  return <rect x={cx - s / 2} y={cy - s / 2} width={s} height={s} fill="#000" />
}

function InsetDayTick(props: any) {
  const { x, y, payload } = props
  const i = insetDayTicks.indexOf(payload.value)
  const label = insetDayLabels[i] ?? ''
  if (!label) return <g />
  return (
    <text x={x + (insetLabelShift[i] ?? 0)} y={y} dy="0.71em" textAnchor="middle" fontFamily={mono} fontSize={16} fill="#222">
      {label}
    </text>
  )
}

function LegendBox() {
  return (
    <svg width={172} height={84} style={{ display: 'block' }}>
      <rect x={1.5} y={1.5} width={169} height={81} fill="#fff" stroke="#000" strokeWidth={3} />
      <path d="M30,15L50,33M30,33L50,15" stroke="#ff0000" strokeWidth={1.2} fill="none" />
      <rect x={30} y={50} width={19} height={19} fill="#000" />
      <text x={85} y={25} dominantBaseline="central" fontFamily={mono} fontSize={22} fill="#222">{seriesNames[0]}</text>
      <text x={84} y={60} dominantBaseline="central" fontFamily={mono} fontSize={22} fill="#222">{seriesNames[1]}</text>
    </svg>
  )
}

function arrow(x1: number, y1: number, x2: number, y2: number) {
  const len = Math.hypot(x2 - x1, y2 - y1)
  const ux = (x2 - x1) / len
  const uy = (y2 - y1) / len
  const head = 20
  const half = 7
  const bx = x2 - ux * head
  const by = y2 - uy * head
  return (
    <g>
      <line x1={x1} y1={y1} x2={bx} y2={by} stroke="#000" strokeWidth={3} />
      <polygon
        points={`${x2},${y2} ${bx - uy * half},${by + ux * half} ${bx + uy * half},${by - ux * half}`}
        fill="#000"
      />
    </g>
  )
}

export default function App() {
  return (
    <div style={{ position: 'absolute', left: 0, top: 0, width: 1164, height: 766, background: '#fff' }}>
      <ScatterChart width={1164} height={766} margin={{ top: 16, right: 54, bottom: 46, left: 41 }}>
        <CartesianGrid stroke={gridBlue} strokeWidth={1} />
        <XAxis
          type="number" dataKey="day" domain={[0, 50]} ticks={xTicks} allowDecimals={false}
          tickFormatter={(v: number) => xTickLabels[xTicks.indexOf(v)] ?? ''}
          height={60} tickSize={18} tickMargin={23}
          tick={{ fill: '#222', fontSize: 25, fontFamily: mono }}
          axisLine={axisStyle} tickLine={axisStyle}
          label={{ value: 'UTC', position: 'bottom', offset: 18, fill: '#222', fontSize: 26, fontFamily: mono }}
        />
        <YAxis
          type="number" dataKey="t" domain={[0, 25]} ticks={yTicks}
          width={60} tickSize={19} tickMargin={12}
          tick={{ fill: '#222', fontSize: 25, fontFamily: mono }}
          axisLine={axisStyle} tickLine={axisStyle}
          label={{
            value: 'Temperature (°C)', angle: -90, position: 'insideLeft', offset: -19,
            fill: '#222', fontSize: 25, fontFamily: mono, style: { textAnchor: 'middle' },
          }}
        />
        <ReferenceLine y={25} stroke="#000" strokeWidth={3} />
        <ReferenceLine x={50} stroke="#000" strokeWidth={3} />
        <Scatter name={seriesNames[0]} data={maeriData} shape={redX(8)} isAnimationActive={false} />
        <Scatter name={seriesNames[1]} data={cirimsData} shape={blackSquare(6.5)} isAnimationActive={false} />
        <ReferenceDot x={19.72} y={22.4} r={48} fill="none" stroke="#000" strokeWidth={4} />
        <Legend
          layout="horizontal" verticalAlign="middle" align="center"
          wrapperStyle={{ left: 930, top: 50, width: 172, height: 84 }}
          content={() => <LegendBox />}
        />
      </ScatterChart>

      <div style={{ position: 'absolute', left: 116, top: 325, width: 414, height: 313, background: '#fff' }}>
        <div style={{ position: 'absolute', left: 0, top: 0 }}>
          <ScatterChart width={414} height={140} margin={{ top: 27, right: 47, bottom: 10, left: 42 }}>
            <XAxis type="number" dataKey="day" domain={[0, 2.05]} ticks={insetDayTicks} height={0} tick={false} tickLine={false} axisLine={insetAxis} />
            <YAxis
              type="number" dataKey="t" domain={[0, 10]} ticks={sigmaTicks} width={50}
              tickSize={18} tickMargin={11} tick={insetTick} axisLine={insetAxis} tickLine={insetAxis}
            />
            <ReferenceLine y={10} stroke="#000" strokeWidth={2.5} />
            <ReferenceLine x={2.05} stroke="#000" strokeWidth={2.5} />
            <Scatter data={sigmaData} shape={blackSquare(2.8)} isAnimationActive={false} />
          </ScatterChart>
        </div>
        <div style={{ position: 'absolute', left: 0, top: 135 }}>
          <ScatterChart width={414} height={178} margin={{ top: 19, right: 47, bottom: 7, left: 42 }}>
            <XAxis
              type="number" dataKey="day" domain={[0, 2.05]} ticks={insetDayTicks} height={50}
              tickSize={19} tickMargin={19} tick={<InsetDayTick />} axisLine={insetAxis} tickLine={insetAxis}
            />
            <YAxis
              type="number" dataKey="t" domain={[15, 25]} ticks={insetTTicks} width={50}
              tickSize={18} tickMargin={11} tick={insetTick} axisLine={insetAxis} tickLine={insetAxis}
            />
            <ReferenceLine x={2.05} stroke="#000" strokeWidth={2.5} />
            <Scatter data={insetMaeriData} shape={redX(6.5)} isAnimationActive={false} />
            <Scatter data={insetCirimsData} shape={blackSquare(5)} isAnimationActive={false} />
          </ScatterChart>
        </div>
        <svg width={414} height={313} style={{ position: 'absolute', left: 0, top: 0, pointerEvents: 'none' }}>
          <text transform="translate(18,78) rotate(-90)" textAnchor="middle" dominantBaseline="central" fill="#111" fontFamily={sans}>
            <tspan fontSize={26}>σ</tspan>
            <tspan fontSize={17} dy={5}>roll</tspan>
            <tspan fontSize={20} dy={-5}> (deg)</tspan>
          </text>
          <text transform="translate(27,209) rotate(-90)" textAnchor="middle" dominantBaseline="central" fill="#111" fontFamily={mono} fontSize={18}>
            T (°C)
          </text>
        </svg>
      </div>

      <svg width={1164} height={766} style={{ position: 'absolute', left: 0, top: 0, pointerEvents: 'none' }}>
        {arrow(450, 90, 210, 352)}
        {arrow(540, 112, 484, 349)}
      </svg>
    </div>
  )
}
